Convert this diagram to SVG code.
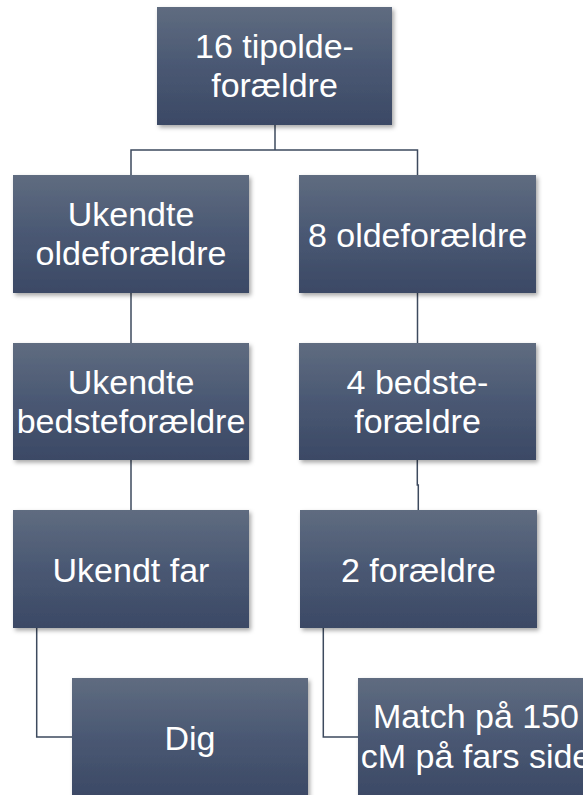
<svg xmlns="http://www.w3.org/2000/svg" width="583" height="795" viewBox="0 0 583 795">
  <defs>
    <linearGradient id="boxGrad" x1="0" y1="0" x2="0" y2="1">
      <stop offset="0" stop-color="#5f6c80"/>
      <stop offset="0.5" stop-color="#4a5873"/>
      <stop offset="1" stop-color="#3b4965"/>
    </linearGradient>
    <filter id="shadow" x="-10%" y="-10%" width="125%" height="125%">
      <feDropShadow dx="2" dy="2.5" stdDeviation="2" flood-color="#000" flood-opacity="0.35"/>
    </filter>
  </defs>
  <style>
    .box { fill: url(#boxGrad); filter: url(#shadow); }
    .lbl { font-family: "Liberation Sans", Arial, sans-serif; font-size: 34px; fill: #ffffff; text-anchor: middle; }
    .conn { fill: none; stroke: #3d4a5e; stroke-width: 1.5; }
  </style>
  <rect width="583" height="795" fill="#ffffff"/>

  <g id="connectors">
    <path class="conn" d="M275,125 V150"/>
    <path class="conn" d="M131,175 V150 H417.5 V175"/>
    <path class="conn" d="M131,293 V343"/>
    <path class="conn" d="M417.5,293 V343"/>
    <path class="conn" d="M131,460 V510"/>
    <path class="conn" d="M417.3,460 V485 H418.3 V510"/>
    <path class="conn" d="M36.7,628 V737 H72"/>
    <path class="conn" d="M323.3,628 V737 H358"/>
  </g>

  <g id="node-tipoldeforaeldre">
    <rect class="box" x="157" y="7" width="235" height="118"/>
    <text class="lbl" x="274.5" y="57.5">16 tipolde-</text>
    <text class="lbl" x="274.5" y="97">forældre</text>
  </g>

  <g id="node-ukendte-oldeforaeldre">
    <rect class="box" x="13" y="175" width="236" height="118"/>
    <text class="lbl" x="131" y="226">Ukendte</text>
    <text class="lbl" x="131" y="265">oldeforældre</text>
  </g>

  <g id="node-8-oldeforaeldre">
    <rect class="box" x="299" y="175" width="237" height="118"/>
    <text class="lbl" x="417.5" y="246.5">8 oldeforældre</text>
  </g>

  <g id="node-ukendte-bedsteforaeldre">
    <rect class="box" x="13" y="343" width="236" height="117"/>
    <text class="lbl" x="131" y="393.5">Ukendte</text>
    <text class="lbl" x="131" y="432.5">bedsteforældre</text>
  </g>

  <g id="node-4-bedsteforaeldre">
    <rect class="box" x="299" y="343" width="237" height="117"/>
    <text class="lbl" x="417.5" y="393.5">4 bedste-</text>
    <text class="lbl" x="417.5" y="432.5">forældre</text>
  </g>

  <g id="node-ukendt-far">
    <rect class="box" x="13" y="510" width="236" height="118"/>
    <text class="lbl" x="131" y="581.5">Ukendt far</text>
  </g>

  <g id="node-2-foraeldre">
    <rect class="box" x="300" y="510" width="237" height="118"/>
    <text class="lbl" x="418.5" y="581.5">2 forældre</text>
  </g>

  <g id="node-dig">
    <rect class="box" x="72" y="678" width="236" height="120"/>
    <text class="lbl" x="190" y="749.5">Dig</text>
  </g>

  <g id="node-match">
    <rect class="box" x="358" y="678" width="236" height="120"/>
    <text class="lbl" x="476" y="727.5">Match på 150</text>
    <text class="lbl" x="476" y="767.5">cM på fars side</text>
  </g>
</svg>
